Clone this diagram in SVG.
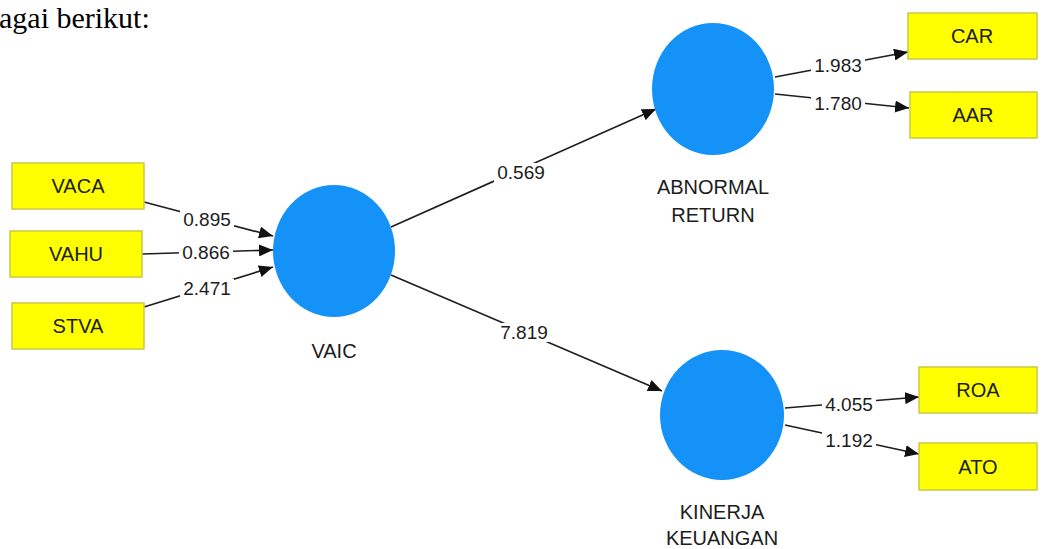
<svg xmlns="http://www.w3.org/2000/svg" width="1046" height="549" viewBox="0 0 1046 549">
<style>
.box{fill:#ffff00;stroke:#c9c94a;stroke-width:1.5}
.lv{fill:#1592f8}
.bt{font-family:"Liberation Sans",Arial,sans-serif;font-size:20px;fill:#1c1c1c;text-anchor:middle}
.nt{font-family:"Liberation Sans",Arial,sans-serif;font-size:20px;fill:#1c1c1c;text-anchor:middle}
.ln{stroke:#1e1e1e;stroke-width:1.7;fill:none;marker-end:url(#ah)}
.bg{fill:#fff}
.lb{font-family:"Liberation Sans",Arial,sans-serif;font-size:19px;fill:#1c1c1c;text-anchor:middle}
.hd{font-family:"Liberation Serif","Times New Roman",serif;font-size:30px;fill:#000}
</style>
<defs>
<marker id="ah" markerUnits="userSpaceOnUse" markerWidth="14" markerHeight="12" refX="14" refY="6" orient="auto">
<path d="M0,0 L14,6 L0,12 z" fill="#111"/>
</marker>
</defs>
<rect width="1046" height="549" fill="#fff"/>
<text class="hd" x="-1" y="28">agai berikut:</text>

<g id="connectors">
<line class="ln" x1="144" y1="202" x2="273" y2="236"/>
<line class="ln" x1="142" y1="254" x2="273" y2="250"/>
<line class="ln" x1="144" y1="307" x2="273" y2="267"/>
<line class="ln" x1="391" y1="227" x2="656" y2="109"/>
<line class="ln" x1="391" y1="275" x2="662" y2="391"/>
<line class="ln" x1="775" y1="77" x2="908" y2="52"/>
<line class="ln" x1="775" y1="94" x2="909" y2="108"/>
<line class="ln" x1="785" y1="408" x2="919" y2="397"/>
<line class="ln" x1="785" y1="425" x2="919" y2="454"/>
<rect class="bg" x="180" y="210" width="54" height="19"/>
<rect class="bg" x="179" y="243" width="54" height="19"/>
<rect class="bg" x="180" y="279" width="54" height="19"/>
<rect class="bg" x="494" y="163" width="54" height="19"/>
<rect class="bg" x="497" y="323" width="54" height="19"/>
<rect class="bg" x="811" y="56" width="54" height="19"/>
<rect class="bg" x="811" y="94" width="54" height="19"/>
<rect class="bg" x="822" y="395" width="54" height="19"/>
<rect class="bg" x="822" y="431" width="54" height="19"/>
<text class="lb" x="207" y="226">0.895</text>
<text class="lb" x="206" y="259">0.866</text>
<text class="lb" x="207" y="295">2.471</text>
<text class="lb" x="521" y="179">0.569</text>
<text class="lb" x="524" y="339">7.819</text>
<text class="lb" x="838" y="72">1.983</text>
<text class="lb" x="838" y="110">1.780</text>
<text class="lb" x="849" y="411">4.055</text>
<text class="lb" x="849" y="447">1.192</text>
</g>

<g id="VACA"><rect class="box" x="12" y="163" width="132" height="46"/><text class="bt" x="78" y="193">VACA</text></g>
<g id="VAHU"><rect class="box" x="10" y="231" width="132" height="46"/><text class="bt" x="76" y="261">VAHU</text></g>
<g id="STVA"><rect class="box" x="12" y="303" width="132" height="46"/><text class="bt" x="78" y="333">STVA</text></g>

<g id="VAIC"><ellipse class="lv" cx="334" cy="251" rx="61" ry="66"/><text class="nt" x="334" y="358">VAIC</text></g>
<g id="ABNORMAL_RETURN"><ellipse class="lv" cx="713" cy="89" rx="61" ry="66"/><text class="nt" x="713" y="194">ABNORMAL</text><text class="nt" x="713" y="222">RETURN</text></g>
<g id="KINERJA_KEUANGAN"><ellipse class="lv" cx="722" cy="415" rx="62" ry="65"/><text class="nt" x="722" y="519">KINERJA</text><text class="nt" x="722" y="545">KEUANGAN</text></g>

<g id="CAR"><rect class="box" x="908" y="13" width="129" height="46"/><text class="bt" x="972" y="43">CAR</text></g>
<g id="AAR"><rect class="box" x="910" y="92" width="127" height="46"/><text class="bt" x="973" y="122">AAR</text></g>
<g id="ROA"><rect class="box" x="919" y="367" width="118" height="46"/><text class="bt" x="978" y="397">ROA</text></g>
<g id="ATO"><rect class="box" x="919" y="443" width="118" height="47"/><text class="bt" x="978" y="474">ATO</text></g>
</svg>
